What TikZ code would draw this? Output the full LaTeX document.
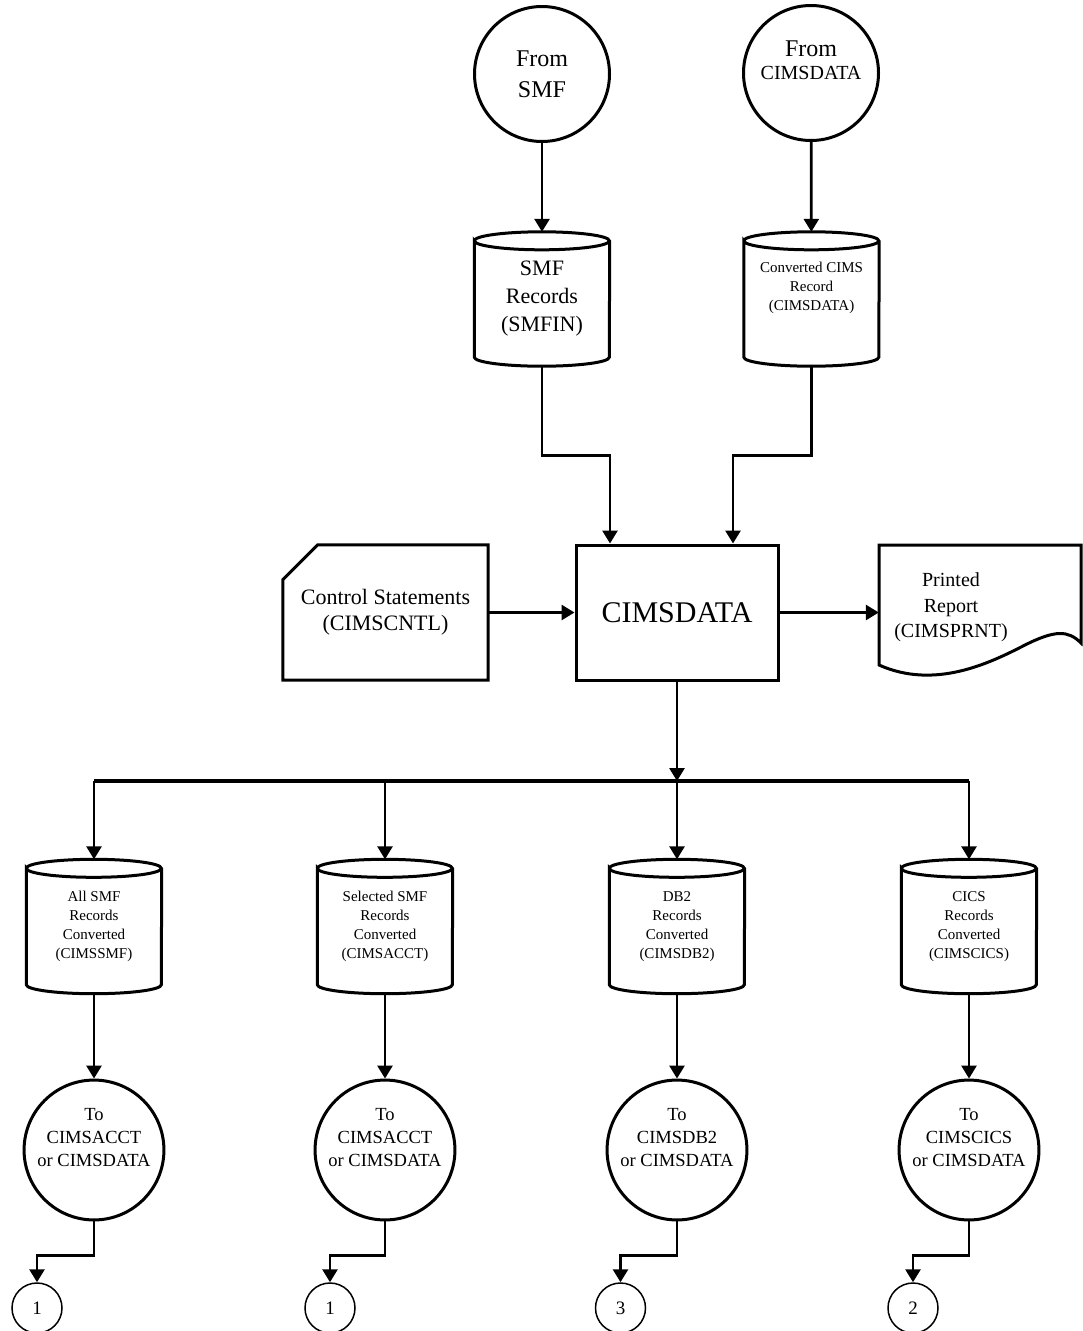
\documentclass[tikz,border=0pt]{standalone}
\usepackage{fontspec}
\setmainfont{Liberation Serif}
\usetikzlibrary{arrows.meta,calc,positioning}
\tikzset{
    conn/.style = {circle, draw, line width=3pt, minimum size=135pt, inner sep=0pt, align=center},
    offpage/.style = {circle, draw, line width=1.5pt, minimum size=50pt, inner sep=0pt, font=\fontsize{19}{23}\selectfont},
    store/.style = {minimum width=135pt, minimum height=134pt, inner sep=0pt, align=center},
    flow/.style = {line width=2.8pt, -{Triangle[length=13pt,width=15pt]}},
    bigtext/.style = {font=\fontsize{24}{31}\selectfont},
    midtext/.style = {font=\fontsize{22}{28}\selectfont},
    smalltext/.style = {font=\fontsize{15}{19}\selectfont},
    circtext/.style = {font=\fontsize{18.5}{23}\selectfont},
    reporttext/.style = {font=\fontsize{20}{25.5}\selectfont}
}

\begin{document}
\begin{tikzpicture}[x=1pt,y=-1pt]
    \useasboundingbox (0,0) rectangle (1083,1331);

    %% inputs
    \node[conn, bigtext] (fromsmf) at (542,74) {From\\SMF};
    \node[conn, font=\fontsize{20}{23}\selectfont] (fromcims) at (811,73) {{\fontsize{24}{24}\selectfont From}\\CIMSDATA\\[2pt]};
    \node[store, midtext] (smfin) at (542,299) {SMF\\Records\\(SMFIN)};
    \node[store, smalltext] (cimsin) at (811.5,299) {Converted CIMS\\Record\\(CIMSDATA)\\[6pt]};

    %% program
    \node[draw, line width=3pt, minimum width=202pt, minimum height=135pt, font=\fontsize{30}{36}\selectfont] (cimsdata) at (677,612.5) {CIMSDATA};
    \node[minimum width=205pt, minimum height=135pt, inner sep=0pt, align=center, font=\fontsize{22}{26}\selectfont] (cntl) at (385.5,612.5) {Control Statements\\(CIMSCNTL)};
    \node[minimum width=202pt, minimum height=135pt, inner sep=0pt,
          label={[reporttext, align=center, xshift=-29pt, yshift=5pt]center:Printed\\Report\\(CIMSPRNT)}] (prnt) at (980,612.5) {};

    %% outputs
    \node[store, smalltext] (allsmf) at (94,926.5) {All SMF\\Records\\Converted\\(CIMSSMF)};
    \node[store, smalltext] (selsmf) at (385,926.5) {Selected SMF\\Records\\Converted\\(CIMSACCT)};
    \node[store, smalltext] (dbrec) at (677,926.5) {DB2\\Records\\Converted\\(CIMSDB2)};
    \node[store, smalltext] (cicsrec) at (969,926.5) {CICS\\Records\\Converted\\(CIMSCICS)};

    \node[conn, circtext] (toacct1) at (94,1150) {To\\CIMSACCT\\or CIMSDATA\\[2pt]};
    \node[conn, circtext] (toacct2) at (385,1150) {To\\CIMSACCT\\or CIMSDATA\\[2pt]};
    \node[conn, circtext] (todb2) at (677,1150) {To\\CIMSDB2\\or CIMSDATA\\[2pt]};
    \node[conn, circtext] (tocics) at (969,1150) {To\\CIMSCICS\\or CIMSDATA\\[2pt]};

    \node[offpage] (off1) at (37,1308) {1};
    \node[offpage] (off2) at (330,1308) {1};
    \node[offpage] (off3) at (620.5,1308) {3};
    \node[offpage] (off4) at (913,1308) {2};

    %% shapes
    \foreach \n in {smfin,cimsin,allsmf,selsmf,dbrec,cicsrec}{
        \draw[line width=3pt] ([yshift=-9pt]\n.north west) arc[start angle=180,end angle=-180,x radius=67.5pt,y radius=9pt]
            -- ([yshift=9pt]\n.south west) arc[start angle=180,end angle=360,x radius=67.5pt,y radius=9pt]
            -- ([yshift=-9pt]\n.north east);
    }
    \draw[line width=3pt] ([yshift=-35pt]cntl.north west) -- ([xshift=35pt]cntl.north west) -- (cntl.north east)
        -- (cntl.south east) -- (cntl.south west) -- cycle;
    \draw[line width=3pt] (879,545) -- (1081,545) -- (1081,643) .. controls (1068,630) and (1055,630) .. (1025,645)
        .. controls (990,663) and (935,690) .. (879,665) -- cycle;

    %% flow
    \draw[flow] (fromsmf) -- (smfin);
    \draw[flow] (fromcims) -- (cimsin);
    \draw[flow] (smfin.south) -- ++(0,89) -| ([xshift=-67pt]cimsdata.north);
    \draw[flow] (cimsin.south) -- ++(0,89) -| ([xshift=56pt]cimsdata.north);
    \draw[flow] (cntl) -- (cimsdata);
    \draw[flow] (cimsdata) -- (prnt);

    \coordinate (bus) at (677,781);
    \draw[flow] (cimsdata) -- (bus);
    \draw[line width=4pt] (allsmf.north |- bus) -- (cicsrec.north |- bus);
    \foreach \n in {allsmf,selsmf,dbrec,cicsrec}{
        \draw[flow] (\n.north |- bus) -- (\n.north);
    }

    \draw[flow] (allsmf) -- (toacct1);
    \draw[flow] (selsmf) -- (toacct2);
    \draw[flow] (dbrec) -- (todb2);
    \draw[flow] (cicsrec) -- (tocics);

    \draw[flow] (toacct1.south) -- ++(0,34) -| (off1.north);
    \draw[flow] (toacct2.south) -- ++(0,34) -| (off2.north);
    \draw[flow] (todb2.south) -- ++(0,34) -| (off3.north);
    \draw[flow] (tocics.south) -- ++(0,34) -| (off4.north);

\end{tikzpicture}
\end{document}
